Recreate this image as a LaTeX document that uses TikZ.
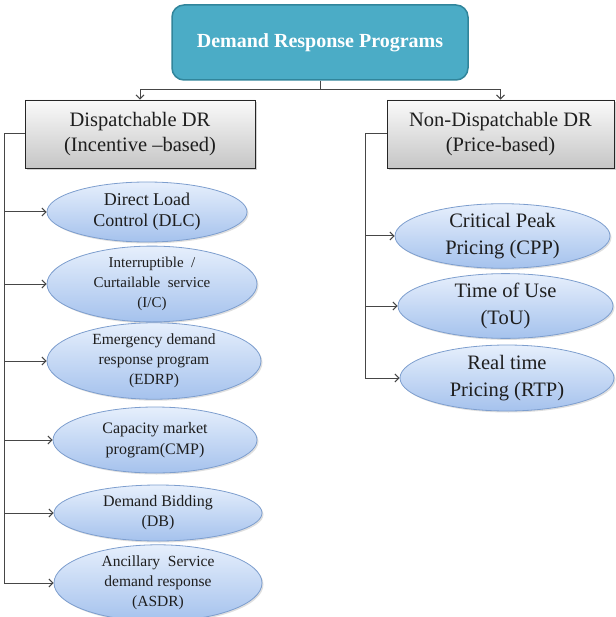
\documentclass[tikz,border=0pt]{standalone}
\usepackage{fontspec}
\setmainfont{Liberation Serif}
\usetikzlibrary{shapes.geometric,arrows.meta,shadows}
\definecolor{headfill}{RGB}{75,172,198}
\definecolor{headline}{RGB}{49,133,155}
\definecolor{linkcol}{RGB}{70,70,70}
\definecolor{elltop}{RGB}{230,239,252}
\definecolor{ellbot}{RGB}{165,194,237}
\definecolor{elledge}{RGB}{125,158,206}
\definecolor{txt}{RGB}{30,30,30}
\begin{document}
\begin{tikzpicture}[x=1pt,y=-1pt,
  headbox/.style={draw=headline, line width=1.5pt, fill=headfill, rounded corners=12pt,
    minimum width=296pt, minimum height=75pt, inner sep=0pt, text=white,
    font=\fontsize{20}{24}\selectfont\bfseries},
  groupbox/.style={draw=black!85, line width=0.8pt, top color=gray!4, bottom color=gray!45,
    minimum height=68pt, inner sep=0pt, align=center, text=txt,
    font=\fontsize{20.5}{25}\selectfont,
    drop shadow={shadow xshift=2pt, shadow yshift=-2pt, opacity=0.35}},
  prog/.style={ellipse, draw=elledge, line width=0.8pt, top color=elltop, bottom color=ellbot,
    inner sep=0pt, align=center, text=txt,
    drop shadow={shadow xshift=1.5pt, shadow yshift=-1.5pt, opacity=0.25}},
  link/.style={draw=linkcol, line width=1pt},
  arr/.style={link, -{Straight Barb[length=4pt,width=8pt]}}
]
\useasboundingbox (0,0) rectangle (615,617);

% top level
\node[headbox] (drp) at (320,42.5) {Demand Response Programs};

% the two programme families
\node[groupbox, minimum width=230pt] (disp) at (140,134) {Dispatchable DR\\(Incentive –based)};
\node[groupbox, minimum width=227pt] (ndisp) at (500.5,134) {Non-Dispatchable DR\\(Price-based)};

% incentive-based programmes
\node[prog, minimum width=200pt, minimum height=60pt, font=\fontsize{18}{21}\selectfont]
  (dlc) at (147,212) {Direct Load\\Control (DLC)};
\node[prog, minimum width=210pt, minimum height=68pt, font=\fontsize{15}{20}\selectfont]
  (ic) at (152,284) {Interruptible \ /\\Curtailable \ service\\(I/C)};
\node[prog, minimum width=214pt, minimum height=72pt, font=\fontsize{15.5}{20}\selectfont]
  (edrp) at (154,361) {Emergency demand\\response program\\(EDRP)};
\node[prog, minimum width=204pt, minimum height=66pt, font=\fontsize{16}{21}\selectfont]
  (cmp) at (155,440) {Capacity market\\program(CMP)};
\node[prog, minimum width=208pt, minimum height=56pt, font=\fontsize{16}{20}\selectfont]
  (db) at (158,513) {Demand Bidding\\(DB)};
\node[prog, minimum width=208pt, minimum height=68pt, font=\fontsize{15.5}{20}\selectfont]
  (asdr) at (158,583) {Ancillary \ Service\\demand response\\(ASDR)};

% price-based programmes
\node[prog, minimum width=215pt, minimum height=62pt, font=\fontsize{20.5}{27}\selectfont]
  (cpp) at (502.5,236) {Critical Peak\\Pricing (CPP)};
\node[prog, minimum width=215pt, minimum height=64pt, font=\fontsize{20.5}{27}\selectfont]
  (tou) at (505.5,306) {Time of Use\\(ToU)};
\node[prog, minimum width=214pt, minimum height=66pt, font=\fontsize{20.5}{27}\selectfont]
  (rtp) at (507,378) {Real time\\Pricing (RTP)};

% bus from the top box to both families
\coordinate (bus) at (320,90);
\draw[link] (drp.south) -- (bus);
\draw[link] (disp.north |- bus) -- (ndisp.north |- bus);
\draw[arr] (disp.north |- bus) -- (disp.north);
\draw[arr] (ndisp.north |- bus) -- (ndisp.north);

% left trunk
\coordinate (ltrunk) at (4,583);
\draw[link] (disp.west) -| (ltrunk);
\foreach \p in {dlc,ic,edrp,cmp,db,asdr}
  \draw[arr] (ltrunk |- \p.west) -- (\p.west);

% right trunk
\coordinate (rtrunk) at (365,378);
\draw[link] (ndisp.west) -| (rtrunk);
\foreach \p in {cpp,tou,rtp}
  \draw[arr] (rtrunk |- \p.west) -- (\p.west);
\end{tikzpicture}
\end{document}
